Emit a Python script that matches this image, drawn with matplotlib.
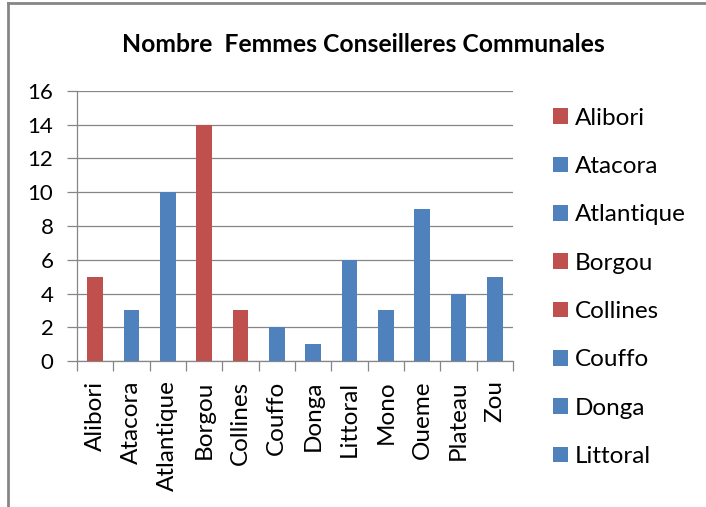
import matplotlib
matplotlib.use("Agg")
import matplotlib.pyplot as plt
from matplotlib.patches import Patch
from matplotlib.lines import Line2D

categories = ["Alibori", "Atacora", "Atlantique", "Borgou", "Collines", "Couffo",
              "Donga", "Littoral", "Mono", "Oueme", "Plateau", "Zou"]
values = [5, 3, 10, 14, 3, 2, 1, 6, 3, 9, 4, 5]
groups = ["red", "blue", "blue", "red", "red", "blue", "blue", "blue", "blue", "blue", "blue", "blue"]
yticks = [0, 2, 4, 6, 8, 10, 12, 14, 16]
legend_shown = 8

palette = {"red": "#C0504D", "blue": "#4F81BD"}
colors = [palette[g] for g in groups]
grey = "#868686"

plt.rcParams['font.family'] = ['Lato', 'DejaVu Sans']

fig = plt.figure(figsize=(7.06, 5.07), dpi=100)
W, H = 706, 507
ax = fig.add_axes([77 / W, 1 - 361 / H, (513 - 77) / W, (361 - 91) / H])

x = list(range(len(categories)))
ax.bar(x, values, width=0.44, color=colors, zorder=3)
ax.set_xlim(-0.5, len(categories) - 0.5)
ax.set_ylim(0, 16)
ax.set_yticks(yticks)
ax.set_yticklabels([str(t) for t in yticks], fontsize=16)
ax.yaxis.grid(True, color=grey, linewidth=0.9, zorder=0)
ax.set_axisbelow(True)

ax.set_xticks(x)
ax.set_xticklabels(categories, rotation=90, fontsize=17.5, va="top")
ax.set_xticks([i - 0.5 for i in range(len(categories) + 1)], minor=True)
ax.tick_params(axis="x", which="major", length=0, pad=14)
ax.tick_params(axis="x", which="minor", length=7, color=grey, width=0.9)
ax.tick_params(axis="y", length=7, color=grey, width=0.9, pad=10)

for s in ["top", "right"]:
    ax.spines[s].set_visible(False)
for s in ["left", "bottom"]:
    ax.spines[s].set_color(grey)
    ax.spines[s].set_linewidth(0.9)

fig.text(363 / W, 1 - 44 / H, "Nombre  Femmes Conseilleres Communales",
         ha="center", va="center", fontsize=17.8, fontweight="bold")

handles = [Patch(facecolor=colors[i], edgecolor="none", label=categories[i])
           for i in range(legend_shown)]
fig.legend(handles=handles, loc="upper left", bbox_to_anchor=(543 / W, 1 - 98 / H),
           frameon=False, fontsize=17.5, handlelength=0.62, handleheight=0.62,
           handletextpad=0.3, labelspacing=1.125, borderaxespad=0)

fig.add_artist(Line2D([8 / W, 8 / W], [0, 1 - 3 / H], transform=fig.transFigure,
                      color=grey, linewidth=2))
fig.add_artist(Line2D([8 / W, 1], [1 - 3 / H, 1 - 3 / H], transform=fig.transFigure,
                      color=grey, linewidth=2))

fig.savefig("out.png", dpi=100)
